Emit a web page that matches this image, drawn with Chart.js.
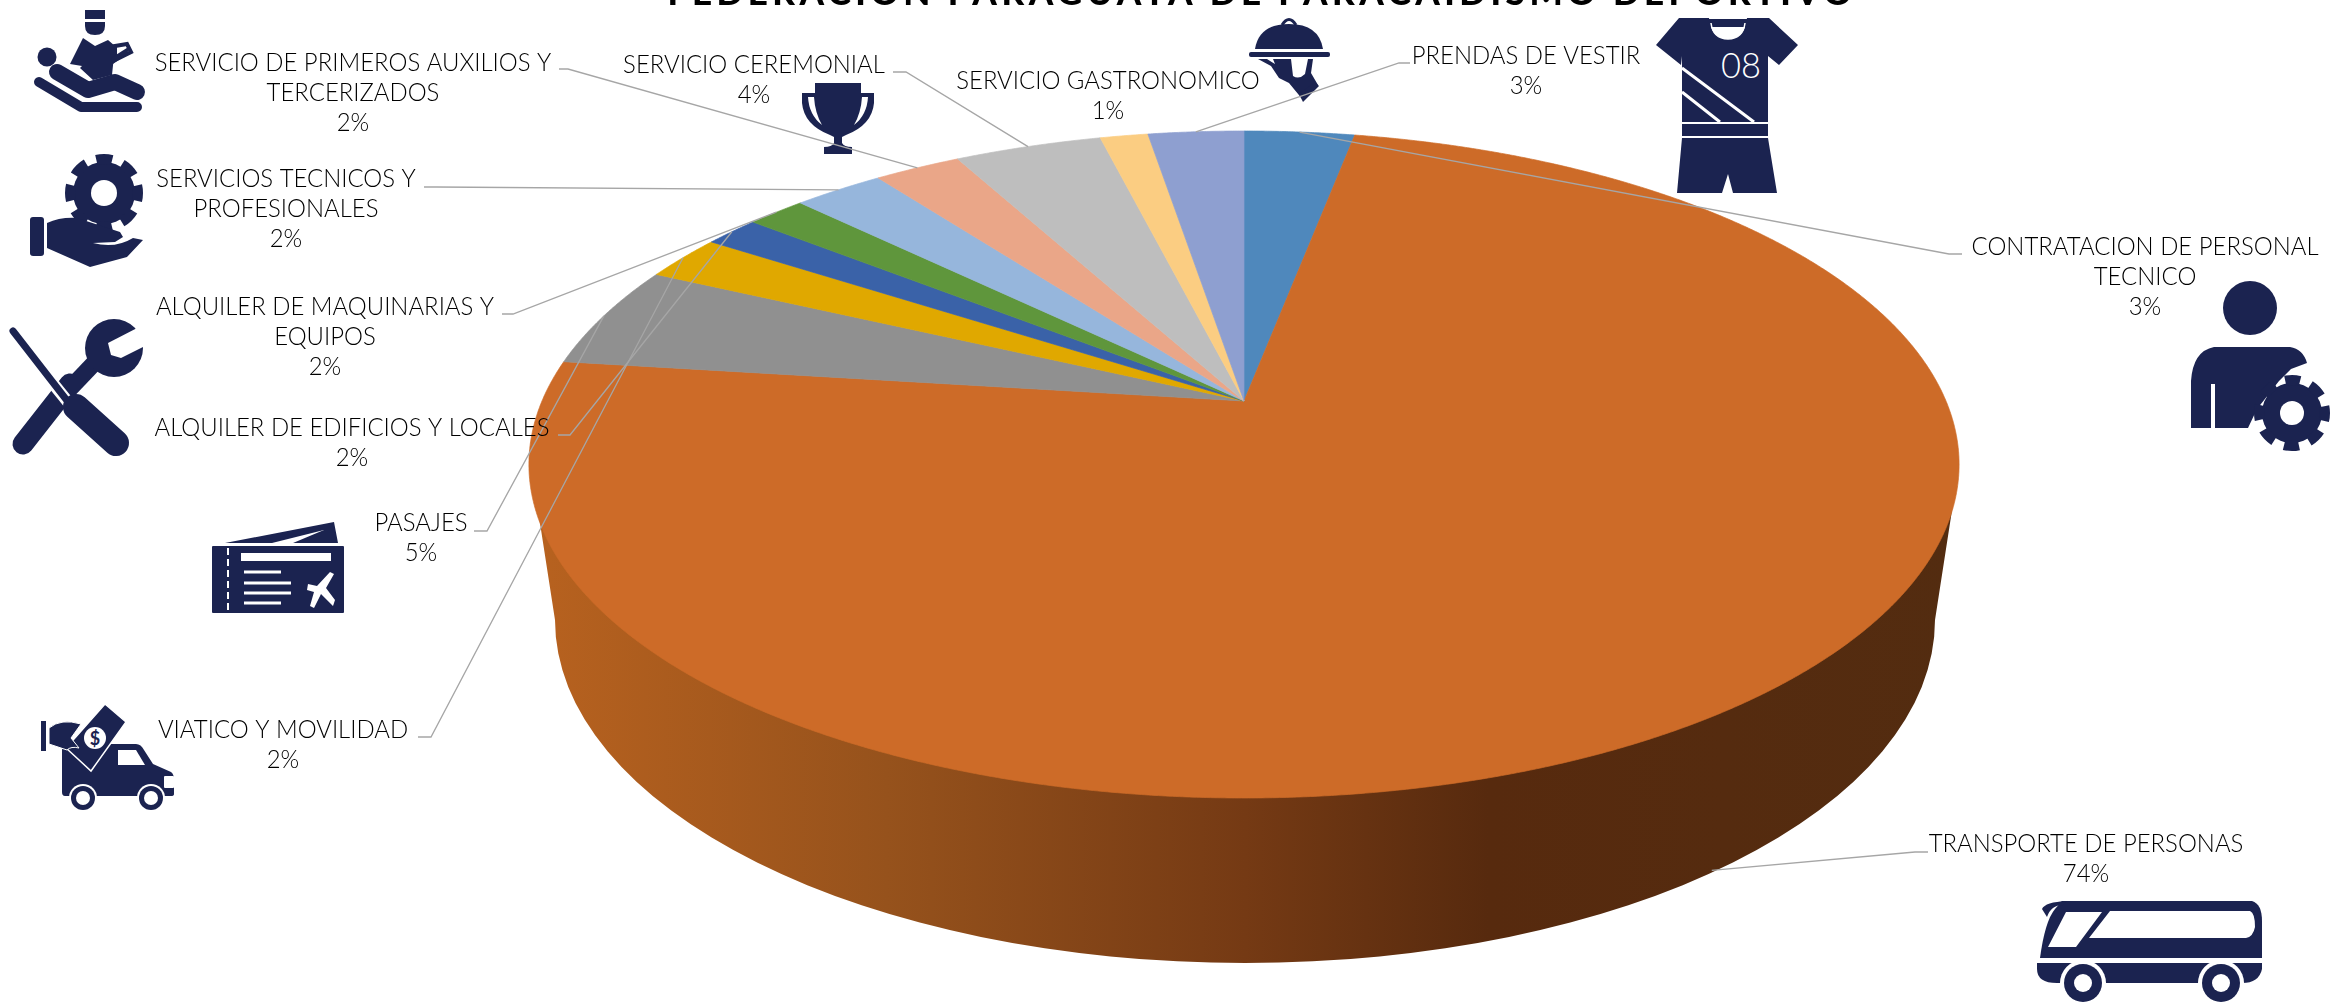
<!DOCTYPE html>
<html>
<head>
<meta charset="utf-8">
<title>Federacion Paraguaya de Paracaidismo Deportivo</title>
<script src="https://cdn.jsdelivr.net/npm/chart.js@4"></script>
<style>
  html, body { margin: 0; padding: 0; background: #fff; overflow: hidden; }
  #icons, #chart { position: absolute; left: 0; top: 0; }
</style>
</head>
<body>
<svg id="icons" width="2331" height="1003" viewBox="0 0 2331 1003" fill="#1b2350">
  <!-- medic -->
  <g transform="translate(35,10)">
    <circle cx="12" cy="47" r="9.5"/>
    <path d="M4 72 L46 97 H102" fill="none" stroke="#1b2350" stroke-width="10" stroke-linecap="round" stroke-linejoin="round"/>
    <path d="M22 62 L53 80 L80 72 L102 82" fill="none" stroke="#1b2350" stroke-width="16" stroke-linecap="round" stroke-linejoin="round"/>
    <path d="M50 0 H70 V9 H50Z M50 12 H70 V16 Q70 25 60 25 Q50 25 50 16Z"/>
    <path d="M48 28 L60 36 L73 30 L80 36 L77 65 L58 70 L45 58 L47 56 L35 54Z"/>
    <path d="M80 36 L92 34 L96 42 L80 50Z" fill="none" stroke="#1b2350" stroke-width="4"/>
    <path d="M76 48 L95 36 L92 44 L78 54Z"/>
  </g>
  <!-- hand with gear -->
  <g transform="translate(30,153)">
    <circle cx="74" cy="40" r="31"/>
    <circle cx="74" cy="40" r="34" fill="none" stroke="#1b2350" stroke-width="10" stroke-dasharray="16 10.7" stroke-dashoffset="8"/>
    <circle cx="74" cy="40" r="13" fill="#fff"/>
    <rect x="0" y="64" width="14" height="39" rx="3"/>
    <path d="M17 70 Q30 64 47 65 L90 79 L93 84 L85 89 L63 90 Q85 96 103 85 L113 87 L97 104 L60 114 L17 95Z"/>
  </g>
  <!-- tools -->
  <g transform="translate(10,319)">
    <path d="M13 125 L60 65" fill="none" stroke="#1b2350" stroke-width="21" stroke-linecap="round"/>
    <path d="M50 80 L90 38" fill="none" stroke="#1b2350" stroke-width="17"/>
    <circle cx="104" cy="29" r="29"/>
    <path d="M133 6 L98 24 L101 36 L111 39 L133 28Z" fill="#fff"/>
    <path d="M4 16 L62 88" fill="none" stroke="#fff" stroke-width="12"/>
    <path d="M3 12 L62 88" fill="none" stroke="#1b2350" stroke-width="7" stroke-linecap="round"/>
    <path d="M62 84 L105 128" fill="none" stroke="#fff" stroke-width="34"/>
    <path d="M66 88 L106 124" fill="none" stroke="#1b2350" stroke-width="26" stroke-linecap="round"/>
  </g>
  <!-- trophy -->
  <g transform="translate(802,83)">
    <path d="M13 0 H59 V10 H72 V20 Q70 42 44 52 L40 54 V60 Q42 64 50 64 V71 H22 V64 Q30 64 32 60 V54 L28 52 Q2 42 0 20 V10 H13Z"/>
    <path d="M6 14 Q7 32 20 42 Q13 30 12 14Z M66 14 Q65 32 52 42 Q59 30 60 14Z" fill="#fff"/>
  </g>
  <!-- cloche -->
  <g transform="translate(1249,18)">
    <path d="M6 31 Q10 6 40 6 Q70 6 74 31Z"/>
    <path d="M33 7 Q40 -4 47 7" fill="none" stroke="#1b2350" stroke-width="3"/>
    <rect x="0" y="34" width="81" height="5" rx="2"/>
    <path d="M9 41 H64 L62 55 L69 67 L54 82 L40 65 L30 60 L22 48Z"/>
    <path d="M42 41 H59 L56 56 Q50 62 44 58Z M18 41 L26 46 L24 41Z" fill="#fff"/>
    <path d="M50 76 L66 64 L70 68 L54 84Z"/>
  </g>
  <!-- shirt -->
  <g transform="translate(1656,18)">
    <path d="M23 0 H53 Q55 21 72 21 Q89 21 91 0 H113 L142 27 L123 47 L112 38 V104 H26 V38 L25 47 L0 27Z"/>
    <path d="M53 5 H91" stroke="#1b2350" stroke-width="8"/>
    <path d="M26 50 L98 104 M26 74 L64 104" stroke="#fff" stroke-width="3"/>
    <path d="M55 5 Q57 21 72 21 Q87 21 89 5" fill="none" stroke="#fff" stroke-width="1.5"/>
    <rect x="26" y="106" width="86" height="12"/>
    <path d="M26 120 H112 L121 175 H77 L72 156 L66 175 H21Z"/>
    <text x="85" y="60" font-family="Lato" font-weight="300" font-size="36" fill="#fff" text-anchor="middle" textLength="40" lengthAdjust="spacingAndGlyphs">08</text>
  </g>
  <!-- worker with gear -->
  <g transform="translate(2191,281)">
    <ellipse cx="59" cy="27" rx="27" ry="27"/>
    <path d="M0 147 V100 Q2 70 23 66 H99 Q112 68 116 82 L100 88 L88 100 L66 128 L57 147 H24 V103 H20 V147Z"/>
    <circle cx="101" cy="132" r="30"/>
    <circle cx="101" cy="132" r="33" fill="none" stroke="#1b2350" stroke-width="10" stroke-dasharray="15 10.9" stroke-dashoffset="7"/>
    <circle cx="101" cy="132" r="12" fill="#fff"/>
  </g>
  <!-- ticket -->
  <g transform="translate(212,522)">
    <path d="M13 21 L122 0 L126 21 H81 L112 8 L60 21Z"/>
    <rect x="0" y="24" width="132" height="67" rx="1"/>
    <path d="M16 26 V91" stroke="#fff" stroke-width="2" stroke-dasharray="7 4"/>
    <rect x="29" y="31" width="90" height="8" fill="#fff"/>
    <path d="M32 50 H69 M32 61 H79 M32 71 H79 M32 81 H69" stroke="#fff" stroke-width="3"/>
    <path d="M122 52 L114 66 L123 78 L121 84 L109 72 L102 86 L98 84 L102 70 L95 68 L96 62 L105 64 L118 50Z" fill="#fff"/>
  </g>
  <!-- truck with money -->
  <g transform="translate(41,704)">
    <path d="M21 46 Q21 40 28 40 H95 Q100 40 103 46 L112 60 L130 68 Q133 70 133 76 V90 Q133 92 130 92 H24 Q21 92 21 88Z"/>
    <path d="M77 46 H95 L104 61 H77Z" fill="#fff"/>
    <rect x="123" y="72" width="10" height="12" rx="1" fill="#fff"/>
    <path d="M64 0 L85 18 L50 67 L25 44Z" stroke="#fff" stroke-width="1.5"/>
    <circle cx="54" cy="34" r="11" fill="#fff"/>
    <text x="54" y="41" font-family="Lato" font-size="18" font-weight="700" text-anchor="middle">$</text>
    <rect x="0" y="17" width="5" height="30"/>
    <path d="M8 24 Q20 14 40 20 L30 34 L38 44 Q30 42 26 46 L8 40Z" stroke="#fff" stroke-width="1"/>
    <circle cx="42" cy="94" r="14" fill="#fff"/><circle cx="42" cy="94" r="12"/><circle cx="42" cy="94" r="7" fill="#fff"/>
    <circle cx="110" cy="94" r="14" fill="#fff"/><circle cx="110" cy="94" r="12"/><circle cx="110" cy="94" r="7" fill="#fff"/>
  </g>
  <!-- bus -->
  <g transform="translate(2037,901)">
    <path d="M25 0 H215 Q225 3 225 20 V57 H3 Q8 20 18 8Z"/>
    <path d="M5 8 Q8 1 30 0 L26 4 Q14 4 10 16Z"/>
    <path d="M29 11 H65 L39 46 H11Z M73 10 H213 Q218 12 218 26 Q216 36 209 37 H52Z" fill="#fff"/>
    <path d="M0 62 H225 V68 Q222 82 205 82 H20 Q0 82 0 68Z"/>
    <circle cx="46" cy="82" r="23" fill="#fff"/><circle cx="46" cy="82" r="19"/><circle cx="46" cy="82" r="9" fill="#fff"/>
    <circle cx="184" cy="82" r="23" fill="#fff"/><circle cx="184" cy="82" r="19"/><circle cx="184" cy="82" r="9" fill="#fff"/>
  </g>
</svg>
<canvas id="chart" width="2331" height="1003"></canvas>

<script>
const title = "FEDERACION PARAGUAYA DE PARACAIDISMO DEPORTIVO";
const categories = [
  "CONTRATACION DE PERSONAL TECNICO", "TRANSPORTE DE PERSONAS", "PASAJES",
  "VIATICO Y MOVILIDAD", "ALQUILER DE EDIFICIOS Y LOCALES", "ALQUILER DE MAQUINARIAS Y EQUIPOS",
  "SERVICIOS TECNICOS Y PROFESIONALES", "SERVICIO DE PRIMEROS AUXILIOS Y TERCERIZADOS",
  "SERVICIO CEREMONIAL", "SERVICIO GASTRONOMICO", "PRENDAS DE VESTIR"
];
const values = [3, 74, 5, 2.2, 1.5, 1.6, 2.45, 2.35, 4, 1.3, 2.6];
const colors = [
  "#4f88bc", "#cd6b28", "#909090", "#e0a800", "#3a62a8", "#5f963c",
  "#96b6dc", "#eaa688", "#bebebe", "#fbcd82", "#8e9fd0"
];
const labelLines = [
  ["CONTRATACION DE PERSONAL", "TECNICO"], ["TRANSPORTE DE PERSONAS"], ["PASAJES"],
  ["VIATICO Y MOVILIDAD"], ["ALQUILER DE EDIFICIOS Y LOCALES"], ["ALQUILER DE MAQUINARIAS Y", "EQUIPOS"],
  ["SERVICIOS TECNICOS Y", "PROFESIONALES"], ["SERVICIO DE PRIMEROS AUXILIOS Y", "TERCERIZADOS"],
  ["SERVICIO CEREMONIAL"], ["SERVICIO GASTRONOMICO"], ["PRENDAS DE VESTIR"]
];

// label centre x, first line y, then leader elbow: from x, to x, y (same order as categories)
const labelLayout = [
  [2145, 247, 1962, 1949, 254], [2086, 844, 1928, 1915, 852], [421, 523, 474, 487, 531],
  [283, 730, 418, 431, 737], [352, 428, 558, 570, 435], [325, 307, 502, 513, 314],
  [286, 179, 424, 436, 187], [353, 63, 559, 568, 69],
  [754, 65, 893, 906, 72], [1108, 81, null, null, null], [1526, 56, 1410, 1399, 63]
];

// the top of the pie is a circle seen in perspective: apex is not the ellipse centre
const apex = { x: 1244, y: 401 };
const tilt = { a: 702, b: 321.4, k: 0.1904 };
const project = (angle) => {
  const u = Math.cos(angle), v = Math.sin(angle), w = 1 - tilt.k * v;
  return { x: apex.x + tilt.a * u / w, y: apex.y + tilt.b * v / w };
};

// chart.js still works out the slice angles, only the outline is changed
Chart.ArcElement.prototype.draw = function (ctx) {
  ctx.save();
  ctx.fillStyle = ctx.strokeStyle = this.options.backgroundColor;
  ctx.lineWidth = 0.7;
  ctx.beginPath();
  ctx.moveTo(apex.x, apex.y);
  for (let t = this.startAngle; t < this.endAngle; t += 0.004) {
    const p = project(t);
    ctx.lineTo(p.x, p.y);
  }
  const end = project(this.endAngle);
  ctx.lineTo(end.x, end.y);
  ctx.closePath();
  ctx.fill();
  ctx.stroke();
  ctx.restore();
};

const pieWall = {
  id: "pieWall",
  beforeDatasetsDraw(chart) {
    const ctx = chart.ctx;
    const grad = ctx.createLinearGradient(530, 0, 1960, 0);
    grad.addColorStop(0, "#b8621f");
    grad.addColorStop(0.25, "#96521c");
    grad.addColorStop(0.5, "#753a14");
    grad.addColorStop(0.67, "#572a0e");
    grad.addColorStop(1, "#532c10");
    ctx.save();
    ctx.fillStyle = grad;
    ctx.beginPath();
    ctx.moveTo(531, 465);
    ctx.lineTo(555, 620);
    ctx.ellipse(1245, 620, 690, 343, 0, Math.PI, 0, true);
    ctx.lineTo(1959, 465);
    ctx.closePath();
    ctx.fill();
    ctx.restore();
  }
};

const calloutLabels = {
  id: "calloutLabels",
  afterDatasetsDraw(chart) {
    const ctx = chart.ctx;
    const arcs = chart.getDatasetMeta(0).data;
    ctx.save();

    ctx.strokeStyle = "#a6a6a6";
    ctx.lineWidth = 1.3;
    labelLayout.forEach((pos, i) => {
      if (pos[2] === null) return;
      const mid = (arcs[i].startAngle + arcs[i].endAngle) / 2;
      const rim = project(mid);
      // the big slice points at its side wall, not at the rim
      const end = i === 1 ? { x: rim.x - 20, y: rim.y + 162 } : rim;
      ctx.beginPath();
      ctx.moveTo(pos[2], pos[4]);
      ctx.lineTo(pos[3], pos[4]);
      ctx.lineTo(end.x, end.y);
      ctx.stroke();
    });

    ctx.fillStyle = "#000";
    ctx.font = "300 26px Lato";
    ctx.textAlign = "center";
    ctx.textBaseline = "middle";
    labelLayout.forEach((pos, i) => {
      const lines = labelLines[i].concat(Math.round(values[i]) + "%");
      lines.forEach((line, n) => {
        const w = ctx.measureText(line).width;
        ctx.fillText(line, pos[0], pos[1] + n * 30, w * 0.92);
      });
    });

    // title is cut by the top edge in the picture
    ctx.font = "900 35px Lato";
    ctx.letterSpacing = "4.5px";
    ctx.textBaseline = "alphabetic";
    ctx.fillText(title, 1262, 5);
    ctx.restore();
  }
};

new Chart(document.getElementById("chart"), {
  type: "pie",
  data: {
    labels: categories,
    datasets: [{ data: values, backgroundColor: colors, borderWidth: 0 }]
  },
  options: {
    responsive: false,
    devicePixelRatio: 1,
    animation: false,
    plugins: { legend: { display: false }, tooltip: { enabled: false }, title: { display: false } }
  },
  plugins: [pieWall, calloutLabels]
});
</script>
</body>
</html>
